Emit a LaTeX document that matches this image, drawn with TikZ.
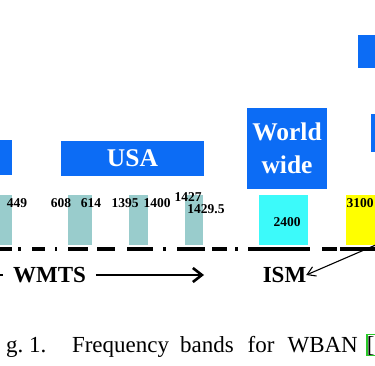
\documentclass[tikz,border=0pt]{standalone}
\usepackage{fontspec}
\setmainfont{Liberation Serif}
\usetikzlibrary{arrows.meta}
\definecolor{regblue}{RGB}{12,108,245}
\definecolor{wmtsteal}{RGB}{153,204,204}
\definecolor{ismcyan}{RGB}{60,250,250}
\definecolor{uwbyellow}{RGB}{255,255,0}
\definecolor{linkgreen}{RGB}{40,200,40}

\begin{document}
\begin{tikzpicture}[x=1pt,y=-1pt]
   \tikzstyle{every node}=[inner sep=0pt, outer sep=0pt]
   \tikzstyle{region}=[fill=regblue, text=white, align=center, font=\bfseries\fontsize{25.5}{33}\selectfont]
   \tikzstyle{band}=[minimum height=50pt]
   \tikzstyle{freq}=[font=\bfseries\fontsize{13.5}{14}\selectfont]
   \tikzstyle{service}=[font=\bfseries\fontsize{23}{26}\selectfont]
   \tikzstyle{caption}=[anchor=base west, font=\fontsize{23}{26}\selectfont]
   \useasboundingbox (0,0) rectangle (375,366);
   \clip (0,0) rectangle (375,366);

\node[region, minimum width=42pt, minimum height=33pt] (rtop) at (379,51.5) {};
\node[region, minimum width=30pt, minimum height=38pt] (rmid) at (386,133) {};
\node[region, minimum width=42pt, minimum height=35pt] (rleft) at (-9,157.5) {};
\node[region, minimum width=143pt, minimum height=35pt] (usa) at (132.5,158.5) {USA};
\node[region, minimum width=80pt, minimum height=81pt] (world) at (287,148.5) {World\\wide};

\node[band, fill=wmtsteal, minimum width=24pt] (b1) at (0,220) {};
\node[band, fill=wmtsteal, minimum width=24pt] (b2) at (80,220) {};
\node[band, fill=wmtsteal, minimum width=19pt] (b3) at (138.5,220) {};
\node[band, fill=wmtsteal, minimum width=18pt] (b4) at (194,220) {};
\node[band, fill=ismcyan, minimum width=49pt] (ism) at (283.5,220) {};
\node[band, fill=uwbyellow, minimum width=50pt] (uwb) at (371,220) {};

\node[freq] (f449) at (17,203) {449};
\node[freq] (f608) at (61,203) {608};
\node[freq] (f614) at (91,203) {614};
\node[freq] (f1395) at (125,203) {1395};
\node[freq] (f1400) at (157,203) {1400};
\node[freq] (f1427) at (188,197) {1427};
\node[freq] (f1429) at (206,209) {1429.5};
\node[freq] (f2400) at (287,222) {2400};
\node[freq] (f3100) at (360,203) {3100};

\foreach \a/\b in {0/12, 18/21, 32/45, 55/57, 68/88, 97/115, 127/153, 163/166,
                   177/205, 212/227, 235/238, 248/310, 322/337, 340/376}
   \draw[line width=3.5pt] (\a,249) -- (\b,249);

\node[service, outer sep=10pt] (wmts) at (49.5,275) {WMTS};
\node[service] (ismlbl) at (284.5,275) {ISM};
\coordinate (wleft) at (-20,275);
\coordinate (wright) at (204,275);
\coordinate (uwbfoot) at (378,244);
\draw[line width=2.6pt] (wleft) -- (wmts.west);
\draw[line width=2.6pt, -{Straight Barb[length=9pt, width=14pt]}] (wmts.east) -- (wright);
\draw[line width=1.1pt, -{Straight Barb[length=8pt, width=10pt]}] (uwbfoot) -- (ismlbl.east);

\node[caption] (fignum) at (6,352) {g.\ 1.};
\node[caption] (figtext) at (72,352) {Frequency\hspace{11pt}bands\hspace{14pt}for\hspace{13pt}WBAN\hspace{9pt}[};
\node[draw=linkgreen, line width=1.2pt, minimum width=20pt, minimum height=21pt] (cite) at (377,345) {};

\end{tikzpicture}
\end{document}
